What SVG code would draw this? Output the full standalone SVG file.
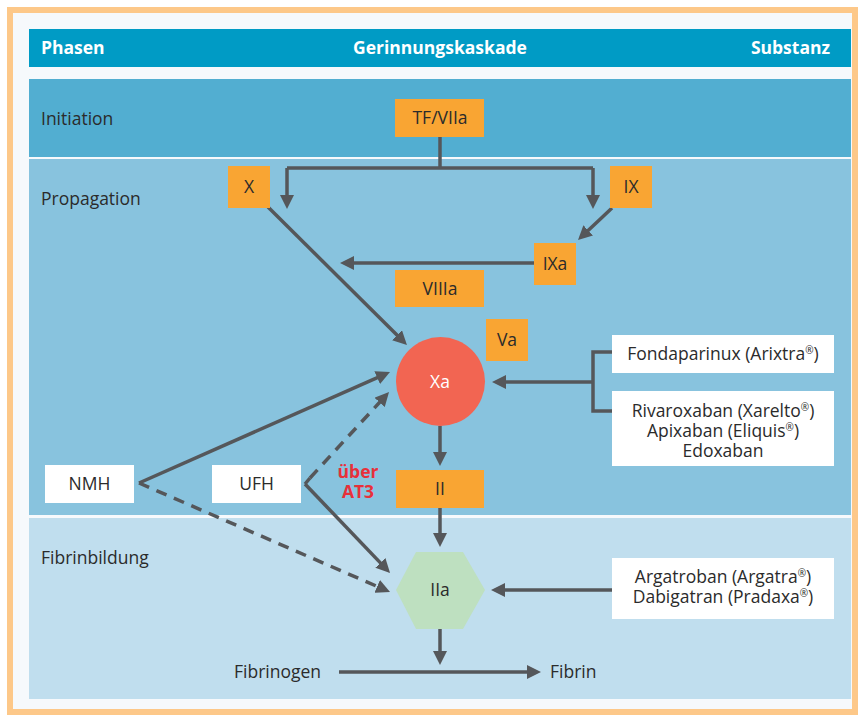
<svg xmlns="http://www.w3.org/2000/svg" width="861" height="715" viewBox="0 0 861 715">
<defs>
<style>
.t{font-family:"Open Sans","Noto Sans","Liberation Sans",sans-serif;font-size:17.5px;fill:#2b2b2b}
.c{text-anchor:middle}
.h{font-family:"Open Sans","Noto Sans","Liberation Sans",sans-serif;font-size:17.5px;font-weight:bold;fill:#ffffff}
.box{fill:#F9A533}
.wb{fill:#ffffff}
.ln{fill:none;stroke:#55575A;stroke-width:3.5}
.ar{marker-end:url(#ah)}
.ds{stroke-dasharray:11 8}
.sup{font-size:10px;baseline-shift:6px}
</style>
<marker id="ah" markerUnits="userSpaceOnUse" markerWidth="14" markerHeight="14" refX="7" refY="7" orient="auto" viewBox="0 0 14 14">
<path d="M0,0 L14,7 L0,14 z" fill="#55575A"/>
</marker>
</defs>
<rect x="0" y="0" width="861" height="715" fill="#ffffff"/>
<rect x="10" y="10" width="845" height="702" fill="#F6F9FC" stroke="#FDC889" stroke-width="6"/>
<g id="bands">
<rect x="29" y="29" width="822" height="38" fill="#009BC5"/>
<rect x="29" y="79" width="822" height="78" fill="#52AED1"/>
<rect x="29" y="159" width="822" height="356" fill="#88C3DE"/>
<rect x="29" y="518" width="822" height="181" fill="#C0DEEE"/>
<text class="h" x="41" y="54">Phasen</text>
<text class="h c" x="440" y="54">Gerinnungskaskade</text>
<text class="h" x="830" y="54" text-anchor="end">Substanz</text>
<text class="t" x="41" y="125">Initiation</text>
<text class="t" x="41" y="205">Propagation</text>
<text class="t" x="41" y="564">Fibrinbildung</text>
</g>
<g id="connectors">
<path class="ln" d="M440,137 V168"/>
<path class="ln ar" d="M287,168 V202"/>
<path class="ln ar" d="M593,168 V202"/>
<path class="ln" d="M287,168 H593"/>
<path class="ln ar" d="M612,208 L583.1,235.2"/>
<path class="ln ar" d="M534,263 H347"/>
<path class="ln ar" d="M268,207 L402,340.1"/>
<path class="ln ar" d="M440,426 V459"/>
<path class="ln ar" d="M440,508 V540"/>
<path class="ln ar" d="M440,629 V658"/>
<path class="ln" d="M612,352 H593 V411 H612"/>
<path class="ln ar" d="M593,382 H499"/>
<path class="ln ar" d="M612,590 H498"/>
<path class="ln ar" d="M339,672 H534"/>
<path class="ln ar" d="M139,483 L383.6,374.8"/>
<path class="ln ar ds" d="M139,483 L383.6,589.2"/>
<path class="ln ar ds" d="M310,478 L384.3,397.2"/>
<path class="ln ar" d="M305,484 L385.2,567.9"/>
<path class="ln" d="M305,484 L310,478"/>
</g>
<g id="n-tf"><rect class="box" x="395" y="99" width="89" height="38"/><text class="t c" x="440" y="124">TF/VIIa</text></g>
<g id="n-x"><rect class="box" x="228" y="166" width="42" height="42"/><text class="t c" x="249" y="193">X</text></g>
<g id="n-ix"><rect class="box" x="610" y="166" width="42" height="42"/><text class="t c" x="631" y="193">IX</text></g>
<g id="n-ixa"><rect class="box" x="534" y="243" width="42" height="42"/><text class="t c" x="555" y="270">IXa</text></g>
<g id="n-viiia"><rect class="box" x="395" y="270" width="89" height="37"/><text class="t c" x="440" y="295">VIIIa</text></g>
<g id="n-va"><rect class="box" x="486" y="319" width="42" height="42"/><text class="t c" x="507" y="346">Va</text></g>
<g id="n-xa"><circle cx="440.5" cy="381.5" r="44.5" fill="#F26552"/><text class="t c" x="440" y="388" style="fill:#ffffff">Xa</text></g>
<g id="n-ii"><rect class="box" x="396" y="470" width="88" height="38"/><text class="t c" x="440" y="495">II</text></g>
<g id="n-iia"><polygon points="396,590 416,552 463,552 485,590 463,629 416,629" fill="#BEE0C0"/><text class="t c" x="440" y="596">IIa</text></g>
<g id="n-nmh"><rect class="wb" x="45" y="465" width="89" height="38"/><text class="t c" x="89.5" y="490">NMH</text></g>
<g id="n-ufh"><rect class="wb" x="212" y="465" width="89" height="38"/><text class="t c" x="256.5" y="490">UFH</text></g>
<g id="n-at3"><text class="h c" style="fill:#E8303A"><tspan x="358" y="478">über</tspan><tspan x="358" y="498">AT3</tspan></text></g>
<g id="n-fonda"><rect class="wb" x="612" y="335" width="222" height="38"/><text class="t c" x="723" y="360">Fondaparinux (Arixtra<tspan class="sup">®</tspan>)</text></g>
<g id="n-riva"><rect class="wb" x="612" y="391" width="222" height="75"/>
<text class="t c"><tspan x="723" y="417">Rivaroxaban (Xarelto<tspan class="sup">®</tspan>)</tspan><tspan x="723" y="437">Apixaban (Eliquis<tspan class="sup">®</tspan>)</tspan><tspan x="723" y="457">Edoxaban</tspan></text></g>
<g id="n-arga"><rect class="wb" x="612" y="558" width="222" height="61"/>
<text class="t c"><tspan x="723" y="583">Argatroban (Argatra<tspan class="sup">®</tspan>)</tspan><tspan x="723" y="603">Dabigatran (Pradaxa<tspan class="sup">®</tspan>)</tspan></text></g>
<g id="n-fibrinogen"><text class="t" x="234" y="678">Fibrinogen</text></g>
<g id="n-fibrin"><text class="t" x="550" y="678">Fibrin</text></g>
</svg>
